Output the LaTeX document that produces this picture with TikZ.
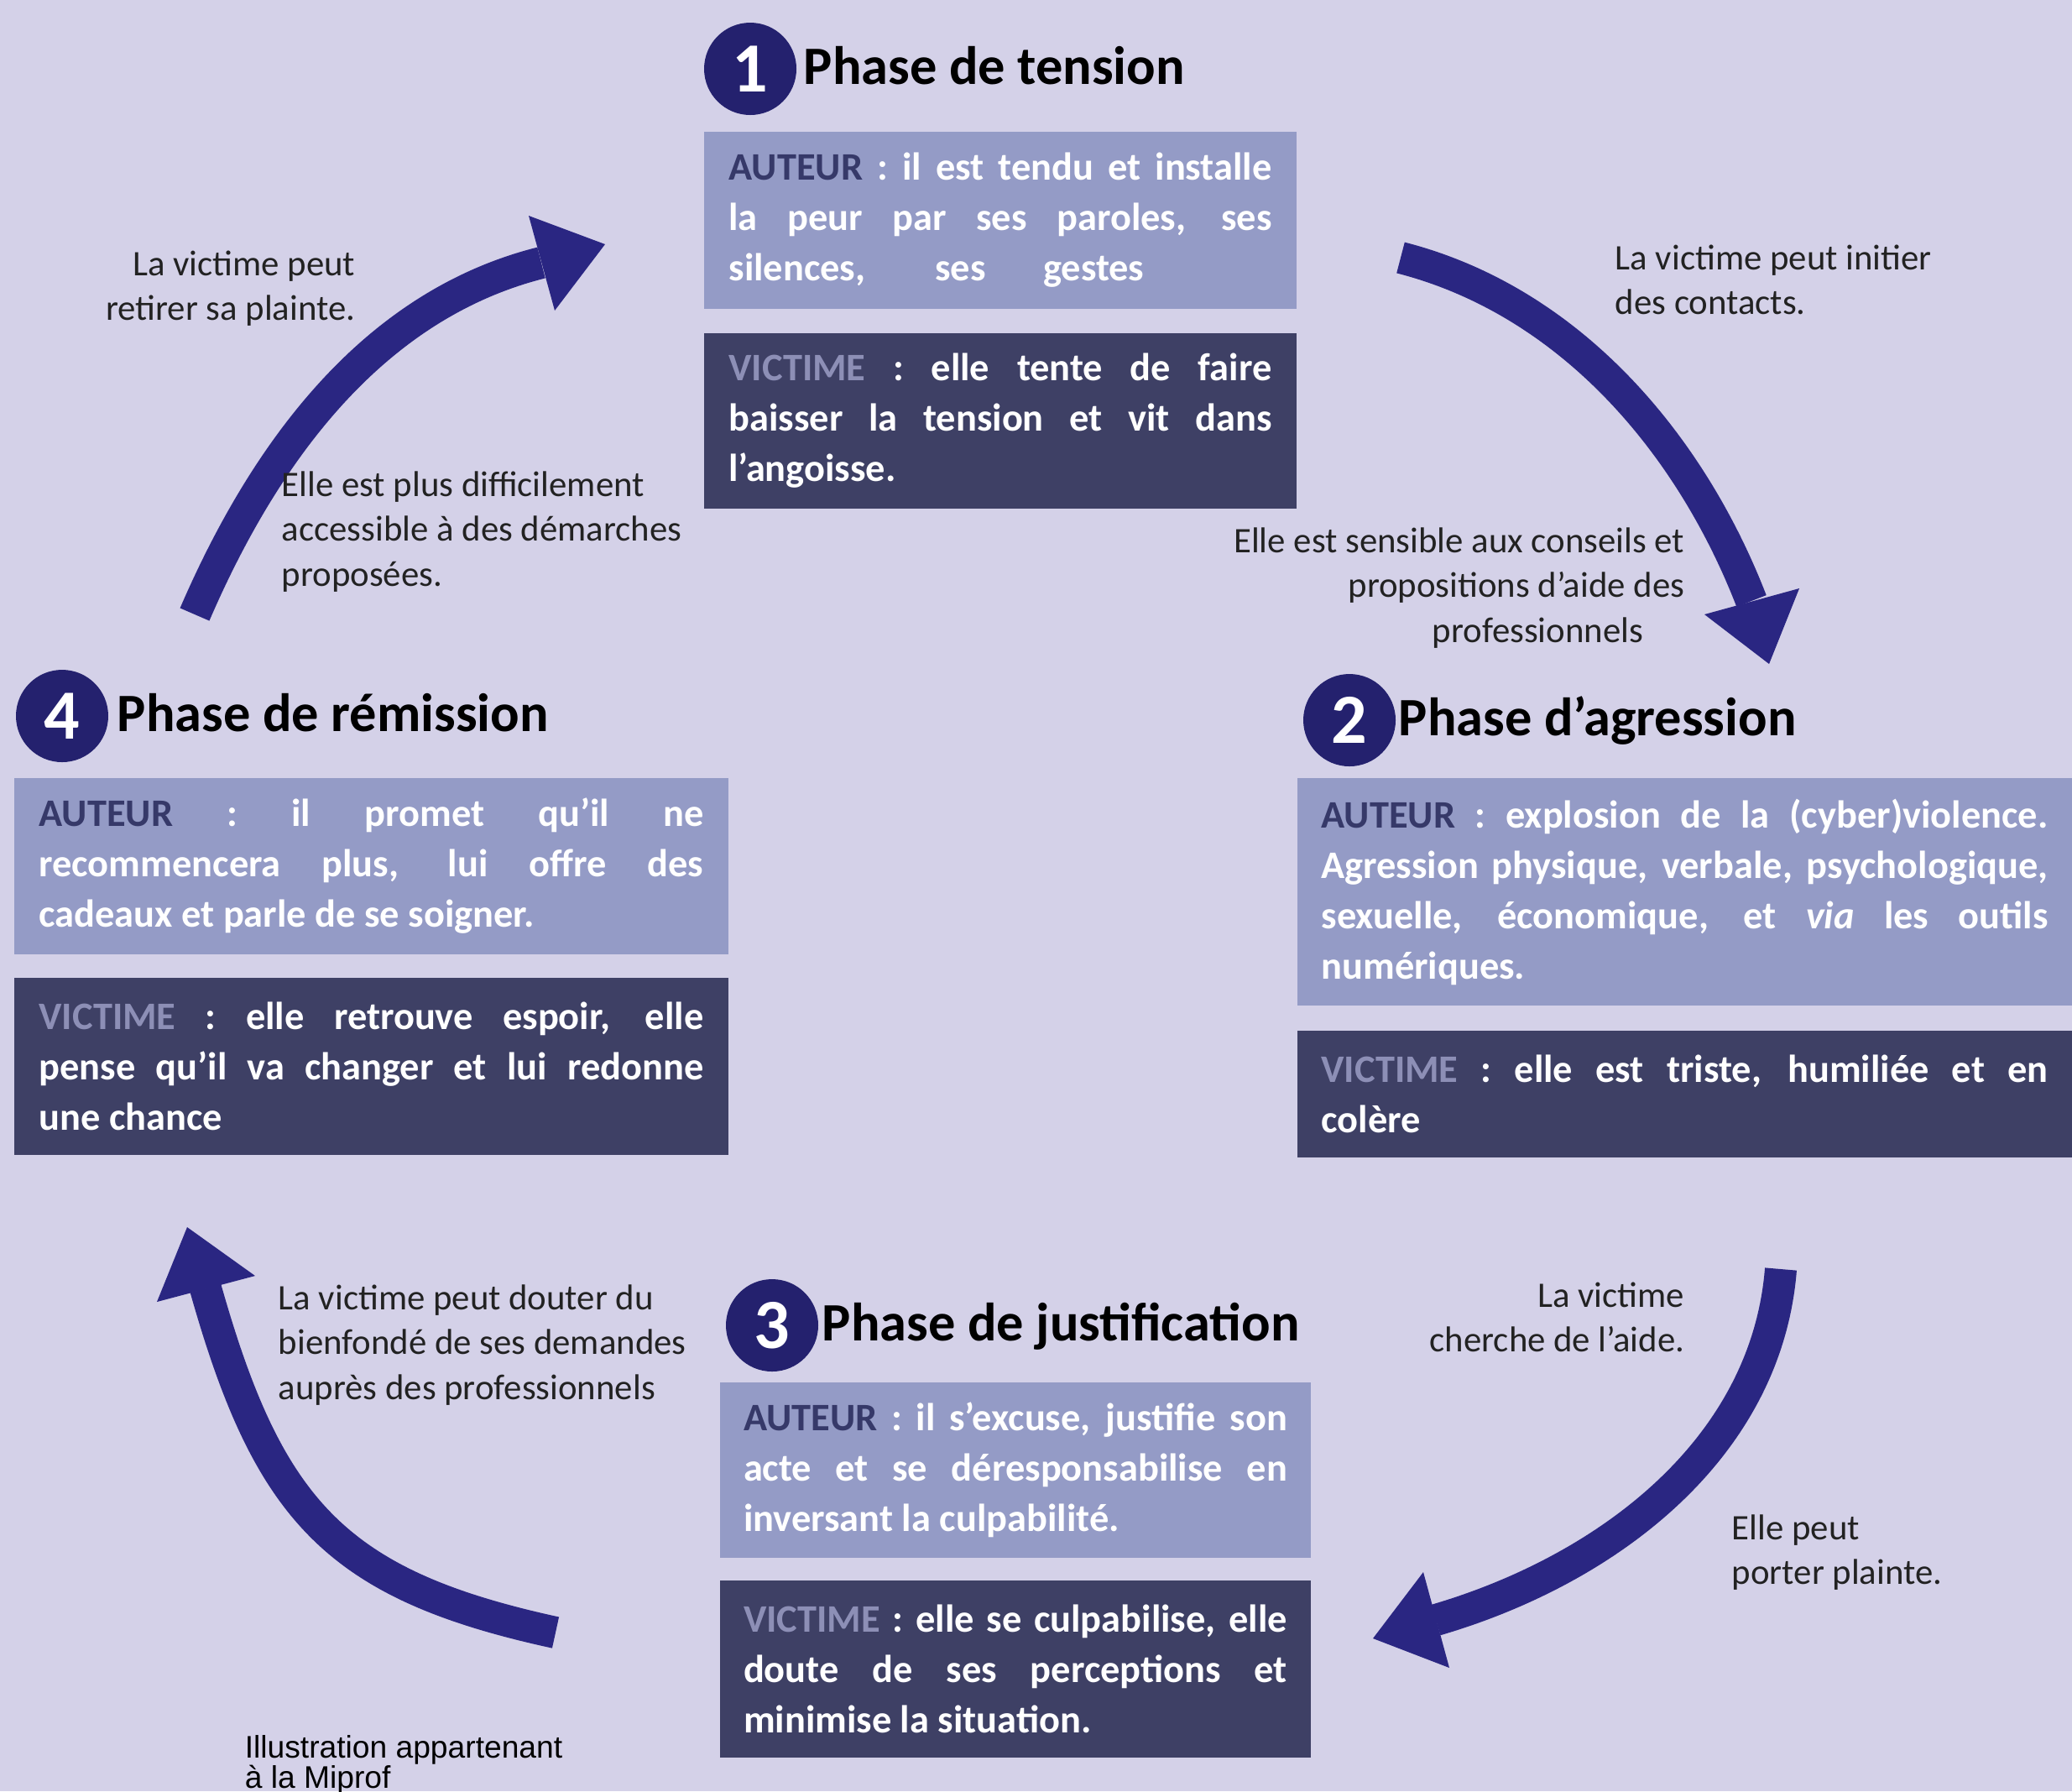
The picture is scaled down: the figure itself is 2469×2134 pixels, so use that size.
\documentclass[tikz,border=0pt]{standalone}
\usepackage{fontspec}
\setmainfont{Carlito}
\newfontfamily\arialf{Liberation Sans}
\definecolor{bgc}{HTML}{D4D1E8}
\definecolor{autbg}{HTML}{949BC6}
\definecolor{vicbg}{HTML}{3E4065}
\definecolor{autlab}{HTML}{363969}
\definecolor{viclab}{HTML}{8D8FB6}
\definecolor{circc}{HTML}{24216E}
\definecolor{arrc}{HTML}{2A2682}
\definecolor{notec}{HTML}{222222}
\newdimen\jw
\newcommand\jl[1]{\leavevmode\hbox to\jw{\spaceskip=0pt\xspaceskip=0pt #1}\\}
\newcommand\pl[2]{\leavevmode\hbox to#1\jw{\spaceskip=0pt\xspaceskip=0pt #2}}
\newcommand\aut{\textcolor{autlab}{AUTEUR}}
\newcommand\vic{\textcolor{viclab}{VICTIME}}
\begin{document}
\begin{tikzpicture}[x=0.25pt,y=-0.25pt,
  tw/.style={text width=#1, execute at begin node={\jw=#1\relax}},
  abox/.style={rectangle, fill=autbg, text=white, inner sep=0pt, align=flush left, font=\bfseries\fontsize{11.6}{15}\selectfont},
  vbox/.style={abox, fill=vicbg},
  num/.style={circle, fill=circc, text=white, minimum size=27.5pt, inner sep=0pt, font=\bfseries\fontsize{21}{21}\selectfont},
  ttl/.style={anchor=base west, inner sep=0pt, text=black, font=\bfseries\fontsize{16.1}{19}\selectfont},
  note/.style={inner sep=0pt, text=notec, text width=170pt, font=\fontsize{10.7}{13.4}\selectfont},
  shaft/.style={draw=arrc, line width=9.5pt},
  head/.style={fill=arrc}]

\path[use as bounding box, fill=bgc] (0,0) rectangle (2469,2134);

% ---- boxes ----
\node[abox, tw=161.75pt, minimum width=176.5pt, minimum height=52.75pt] (a1) at (1192,262.5)
  {\jl{\aut{} : il est tendu et installe}\jl{la peur par ses paroles, ses}\pl{0.765}{silences, ses gestes}};
\node[vbox, tw=161.75pt, minimum width=176.5pt, minimum height=52.25pt] (v1) at (1192,501.5)
  {\jl{\vic{} : elle tente de faire}\jl{baisser la tension et vit dans}l’angoisse.};

\node[abox, tw=216.5pt, minimum width=230.75pt, minimum height=67.75pt] (a2) at (2007.5,1062.5)
  {\jl{\aut{} : explosion de la (cyber)violence.}\jl{Agression physique, verbale, psychologique,}\jl{sexuelle, économique, et \textit{via} les outils}numériques.};
\node[vbox, tw=216.5pt, minimum width=230.75pt, minimum height=37.75pt] (v2) at (2007.5,1303.5)
  {\jl{\vic{} : elle est triste, humiliée et en}colère};

\node[abox, tw=198pt, minimum width=212.75pt, minimum height=52.5pt] (a4) at (442.5,1032)
  {\jl{\aut{} : il promet qu’il ne}\jl{recommencera plus, lui offre des}cadeaux et parle de se soigner.};
\node[vbox, tw=198pt, minimum width=212.75pt, minimum height=52.75pt] (v4) at (442.5,1270.5)
  {\jl{\vic{} : elle retrouve espoir, elle}\jl{pense qu’il va changer et lui redonne}une chance};

\node[abox, tw=162pt, minimum width=176pt, minimum height=52.25pt] (a3) at (1210,1751.5)
  {\jl{\aut{} : il s’excuse, justifie son}\jl{acte et se déresponsabilise en}inversant la culpabilité.};
\node[vbox, tw=162pt, minimum width=176pt, minimum height=52.75pt] (v3) at (1210,1988.5)
  {\jl{\vic{} : elle se culpabilise, elle}\jl{doute de ses perceptions et}minimise la situation.};

% ---- phase titles ----
\node[num] (c1) at (894,82) {1};
\node[ttl] (t1) at (957,100) {Phase de tension};
\node[num] (c2) at (1608,858) {2};
\node[ttl] (t2) at (1666,876) {Phase d’agression};
\node[num] (c4) at (74,853) {4};
\node[ttl] (t4) at (139,871) {Phase de rémission};
\node[num] (c3) at (920,1579) {3};
\node[ttl] (t3) at (979,1597) {Phase de justification};

% ---- arrows ----
\coordinate (p1s) at (232,732); \coordinate (p1a) at (314,542);
\coordinate (p1b) at (442,364); \coordinate (p1e) at (645,313);
\coordinate (h1l) at (630,257); \coordinate (h1t) at (721,291); \coordinate (h1r) at (661,370);
\draw[shaft] (p1s) .. controls (p1a) and (p1b) .. (p1e);
\fill[head] (h1l) -- (h1t) -- (h1r) -- cycle;

\coordinate (p2s) at (1669,307); \coordinate (p2a) at (1872,359);
\coordinate (p2b) at (2015,530); \coordinate (p2e) at (2087,716);
\coordinate (h2l) at (2031,732); \coordinate (h2t) at (2108,791); \coordinate (h2r) at (2144,701);
\draw[shaft] (p2s) .. controls (p2a) and (p2b) .. (p2e);
\fill[head] (h2l) -- (h2t) -- (h2r) -- cycle;

\coordinate (p3s) at (2122,1512); \coordinate (p3a) at (2105,1726);
\coordinate (p3b) at (1916,1870); \coordinate (p3e) at (1711,1930);
\coordinate (h3l) at (1696,1873); \coordinate (h3t) at (1636,1952); \coordinate (h3r) at (1727,1987);
\draw[shaft] (p3s) .. controls (p3a) and (p3b) .. (p3e);
\fill[head] (h3l) -- (h3t) -- (h3r) -- cycle;

\coordinate (p4s) at (662,1945); \coordinate (p4a) at (400,1888);
\coordinate (p4b) at (320,1800); \coordinate (p4e) at (245,1535);
\coordinate (h4l) at (187,1551); \coordinate (h4t) at (223,1462); \coordinate (h4r) at (304,1520);
\draw[shaft] (p4s) .. controls (p4a) and (p4b) .. (p4e);
\fill[head] (h4l) -- (h4t) -- (h4r) -- cycle;

% ---- notes ----
\node[note, anchor=base east, align=flush right] (n1) at (424,328) {La victime peut\\retirer sa plainte.};
\node[note, anchor=base west, align=flush left] (n2) at (335,591) {Elle est plus difficilement\\accessible à des démarches\\proposées.};
\node[note, anchor=base west, align=flush left] (n3) at (1924,321) {La victime peut initier\\des contacts.};
\node[note, anchor=base east, align=flush right] (n4) at (2008,658) {Elle est sensible aux conseils et\\propositions d’aide des\\professionnels\hspace*{12.25pt}};
\node[note, anchor=base east, align=flush right] (n5) at (2008,1557) {La victime\\cherche de l’aide.};
\node[note, anchor=base west, align=flush left] (n6) at (2063,1834) {Elle peut\\porter plainte.};
\node[note, anchor=base west, align=flush left] (n7) at (331,1560) {La victime peut douter du\\bienfondé de ses demandes\\auprès des professionnels};
\node[inner sep=0pt, anchor=base west, align=flush left, text width=150pt, text=black, font=\arialf\fontsize{9.3}{9}\selectfont] (cr) at (291,2094) {Illustration appartenant\\à la Miprof};
\end{tikzpicture}
\end{document}
